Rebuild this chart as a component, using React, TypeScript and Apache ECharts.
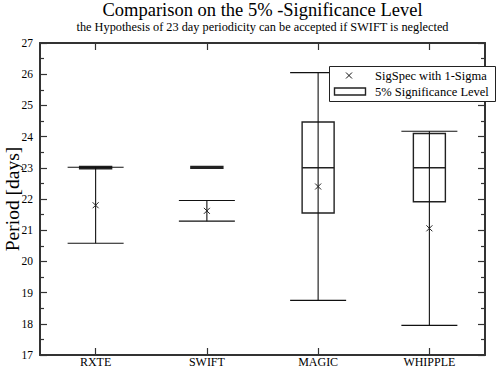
import React, { useEffect, useRef } from "react";
import * as echarts from "echarts";

const categories = ["RXTE", "SWIFT", "MAGIC", "WHIPPLE"];
// SigSpec period and 1-sigma
const sigspecPeriod = [21.8, 21.62, 22.4, 21.06];
const sigspecSigma = [1.22, 0.33, 3.65, 3.11];
// 5% significance level boxes
const boxLow = [22.97, 22.98, 21.55, 21.91];
const boxMedian = [23.0, 23.0, 23.0, 23.0];
const boxHigh = [23.04, 23.04, 24.47, 24.1];

const yMin = 17;
const yMax = 27;
const yInterval = 1;

const FONT = "Liberation Serif";

export default function App() {
  const ref = useRef<HTMLDivElement>(null);

  useEffect(() => {
    if (!ref.current) return;
    const chart = echarts.init(ref.current, null, { renderer: "svg" });

    const boxData = categories.map((_, i) => [i, boxLow[i], boxMedian[i], boxHigh[i]]);
    const errData = categories.map((_, i) => [
      i,
      sigspecPeriod[i] - sigspecSigma[i],
      sigspecPeriod[i],
      sigspecPeriod[i] + sigspecSigma[i],
    ]);

    const axisLineStyle = { color: "#333", width: 2 };
    const tickStyle = { color: "#333", width: 1.2 };

    const option: any = {
      animation: false,
      textStyle: { fontFamily: FONT },
      grid: { left: 40, right: 12, top: 43, bottom: 13, containLabel: false, outerBoundsMode: "none" },
      xAxis: [
        {
          type: "category",
          data: categories,
          position: "bottom",
          boundaryGap: true,
          axisLine: { show: true, lineStyle: axisLineStyle },
          axisTick: { show: true, inside: true, length: 7, alignWithLabel: true, lineStyle: tickStyle },
          axisLabel: { fontFamily: FONT, fontSize: 12, color: "#000", margin: 1 },
          splitLine: { show: false },
        },
        {
          type: "category",
          data: categories,
          position: "top",
          boundaryGap: true,
          axisLine: { show: true, lineStyle: axisLineStyle },
          axisTick: { show: true, inside: true, length: 7, alignWithLabel: true, lineStyle: tickStyle },
          axisLabel: { show: false },
          splitLine: { show: false },
        },
      ],
      yAxis: [
        {
          type: "value",
          min: yMin,
          max: yMax,
          interval: yInterval,
          position: "left",
          name: "Period [days]",
          nameLocation: "middle",
          nameGap: 18,
          nameMoveOverlap: false,
          nameTextStyle: { fontFamily: FONT, fontSize: 19.5, color: "#000" },
          axisLine: { show: true, lineStyle: axisLineStyle },
          axisTick: { show: true, inside: true, length: 7, lineStyle: tickStyle },
          minorTick: { show: true, splitNumber: 2, length: 4, lineStyle: tickStyle },
          axisLabel: { fontFamily: FONT, fontSize: 11.5, color: "#000", margin: 7 },
          splitLine: { show: false },
        },
        {
          type: "value",
          min: yMin,
          max: yMax,
          interval: yInterval,
          position: "right",
          axisLine: { show: true, lineStyle: axisLineStyle },
          axisTick: { show: true, inside: true, length: 7, lineStyle: tickStyle },
          minorTick: { show: true, splitNumber: 2, length: 4, lineStyle: tickStyle },
          axisLabel: { show: false },
          splitLine: { show: false },
        },
      ],
      series: [
        {
          type: "custom",
          name: "5% Significance Level",
          xAxisIndex: 0,
          yAxisIndex: 0,
          data: boxData,
          encode: { x: 0, y: [1, 2, 3] },
          renderItem: (params: any, api: any) => {
            const x = api.value(0);
            const lo = api.coord([x, api.value(1)]);
            const med = api.coord([x, api.value(2)]);
            const hi = api.coord([x, api.value(3)]);
            const w = 32;
            return {
              type: "group",
              children: [
                {
                  type: "rect",
                  shape: { x: lo[0] - w / 2, y: hi[1], width: w, height: lo[1] - hi[1] },
                  style: { fill: "transparent", stroke: "#222", lineWidth: 1.4 },
                },
                {
                  type: "line",
                  shape: { x1: lo[0] - w / 2, y1: med[1], x2: lo[0] + w / 2, y2: med[1] },
                  style: { stroke: "#222", lineWidth: 1.4 },
                },
              ],
            };
          },
        },
        {
          type: "custom",
          name: "SigSpec with 1-Sigma",
          xAxisIndex: 0,
          yAxisIndex: 0,
          data: errData,
          encode: { x: 0, y: [1, 2, 3] },
          renderItem: (params: any, api: any) => {
            const x = api.value(0);
            const lo = api.coord([x, api.value(1)]);
            const c = api.coord([x, api.value(2)]);
            const hi = api.coord([x, api.value(3)]);
            const cw = 28;
            const s = 3;
            const st = { stroke: "#111", lineWidth: 1.1 };
            const sx = { stroke: "#222", lineWidth: 1 };
            return {
              type: "group",
              children: [
                { type: "line", shape: { x1: lo[0], y1: lo[1], x2: hi[0], y2: hi[1] }, style: st },
                { type: "line", shape: { x1: lo[0] - cw, y1: lo[1], x2: lo[0] + cw, y2: lo[1] }, style: st },
                { type: "line", shape: { x1: hi[0] - cw, y1: hi[1], x2: hi[0] + cw, y2: hi[1] }, style: st },
                { type: "line", shape: { x1: c[0] - s, y1: c[1] - s, x2: c[0] + s, y2: c[1] + s }, style: sx },
                { type: "line", shape: { x1: c[0] - s, y1: c[1] + s, x2: c[0] + s, y2: c[1] - s }, style: sx },
              ],
            };
          },
        },
      ],
      graphic: [
        {
          type: "text",
          x: 262.5,
          y: 10,
          style: {
            text: "Comparison on the 5% -Significance Level",
            fontFamily: FONT,
            fontSize: 18.5,
            fill: "#000",
            align: "center",
            verticalAlign: "middle",
          },
        },
        {
          type: "text",
          x: 262.5,
          y: 27,
          style: {
            text: "the Hypothesis of 23 day periodicity can be accepted if SWIFT is neglected",
            fontFamily: FONT,
            fontSize: 12.3,
            fill: "#000",
            align: "center",
            verticalAlign: "middle",
          },
        },
        {
          type: "group",
          z: 100,
          children: [
            {
              type: "rect",
              shape: { x: 329.5, y: 66.5, width: 166, height: 35 },
              style: { fill: "#fff", stroke: "#222", lineWidth: 1 },
              z: 100,
            },
            {
              type: "line",
              shape: { x1: 346, y1: 72.5, x2: 352, y2: 78.5 },
              style: { stroke: "#111", lineWidth: 1 },
              z: 101,
            },
            {
              type: "line",
              shape: { x1: 346, y1: 78.5, x2: 352, y2: 72.5 },
              style: { stroke: "#111", lineWidth: 1 },
              z: 101,
            },
            {
              type: "rect",
              shape: { x: 334.5, y: 88, width: 31, height: 7 },
              style: { fill: "#fff", stroke: "#222", lineWidth: 1.4 },
              z: 101,
            },
            {
              type: "text",
              x: 375,
              y: 75.5,
              style: {
                text: "SigSpec with 1-Sigma",
                fontFamily: FONT,
                fontSize: 12.5,
                fill: "#000",
                align: "left",
                verticalAlign: "middle",
              },
              z: 101,
            },
            {
              type: "text",
              x: 375,
              y: 91.5,
              style: {
                text: "5% Significance Level",
                fontFamily: FONT,
                fontSize: 12.5,
                fill: "#000",
                align: "left",
                verticalAlign: "middle",
              },
              z: 101,
            },
          ],
        },
      ],
    };

    chart.setOption(option);
    return () => chart.dispose();
  }, []);

  return (
    <div
      ref={ref}
      style={{ position: "fixed", left: 0, top: 0, width: 497, height: 368, background: "#fff" }}
    />
  );
}
